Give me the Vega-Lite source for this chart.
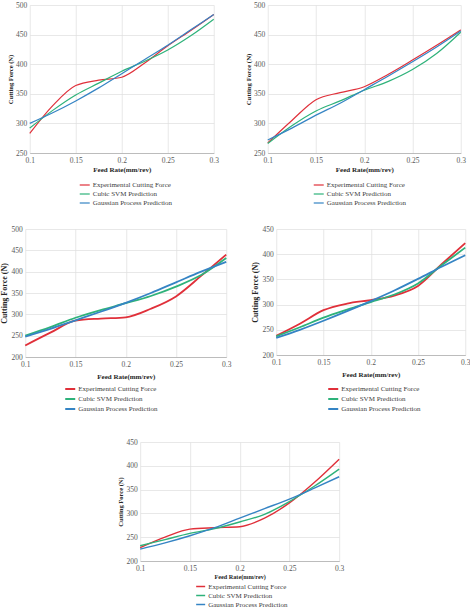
{
  "$schema": "https://vega.github.io/schema/vega-lite/v6.json",
  "background": "white",
  "padding": {"left": 0, "top": 1, "right": 0, "bottom": 0},
  "datasets": {
    "p1": [
      {"feed": 0.1, "series": "Experimental Cutting Force", "force": 283},
      {"feed": 0.125, "series": "Experimental Cutting Force", "force": 330},
      {"feed": 0.15, "series": "Experimental Cutting Force", "force": 364},
      {"feed": 0.175, "series": "Experimental Cutting Force", "force": 373},
      {"feed": 0.2, "series": "Experimental Cutting Force", "force": 378},
      {"feed": 0.225, "series": "Experimental Cutting Force", "force": 402},
      {"feed": 0.25, "series": "Experimental Cutting Force", "force": 431},
      {"feed": 0.275, "series": "Experimental Cutting Force", "force": 457},
      {"feed": 0.3, "series": "Experimental Cutting Force", "force": 484},
      {"feed": 0.1, "series": "Cubic SVM Prediction", "force": 292},
      {"feed": 0.125, "series": "Cubic SVM Prediction", "force": 322},
      {"feed": 0.15, "series": "Cubic SVM Prediction", "force": 348},
      {"feed": 0.175, "series": "Cubic SVM Prediction", "force": 368},
      {"feed": 0.2, "series": "Cubic SVM Prediction", "force": 388},
      {"feed": 0.225, "series": "Cubic SVM Prediction", "force": 405},
      {"feed": 0.25, "series": "Cubic SVM Prediction", "force": 424},
      {"feed": 0.275, "series": "Cubic SVM Prediction", "force": 448},
      {"feed": 0.3, "series": "Cubic SVM Prediction", "force": 476},
      {"feed": 0.1, "series": "Gaussian Process Prediction", "force": 300},
      {"feed": 0.125, "series": "Gaussian Process Prediction", "force": 318},
      {"feed": 0.15, "series": "Gaussian Process Prediction", "force": 338},
      {"feed": 0.175, "series": "Gaussian Process Prediction", "force": 360},
      {"feed": 0.2, "series": "Gaussian Process Prediction", "force": 384},
      {"feed": 0.225, "series": "Gaussian Process Prediction", "force": 408},
      {"feed": 0.25, "series": "Gaussian Process Prediction", "force": 432},
      {"feed": 0.275, "series": "Gaussian Process Prediction", "force": 458},
      {"feed": 0.3, "series": "Gaussian Process Prediction", "force": 484}
    ],
    "p2": [
      {"feed": 0.1, "series": "Experimental Cutting Force", "force": 267},
      {"feed": 0.125, "series": "Experimental Cutting Force", "force": 305},
      {"feed": 0.15, "series": "Experimental Cutting Force", "force": 340},
      {"feed": 0.175, "series": "Experimental Cutting Force", "force": 352},
      {"feed": 0.2, "series": "Experimental Cutting Force", "force": 362},
      {"feed": 0.225, "series": "Experimental Cutting Force", "force": 383},
      {"feed": 0.25, "series": "Experimental Cutting Force", "force": 407},
      {"feed": 0.275, "series": "Experimental Cutting Force", "force": 432},
      {"feed": 0.3, "series": "Experimental Cutting Force", "force": 458},
      {"feed": 0.1, "series": "Cubic SVM Prediction", "force": 266},
      {"feed": 0.125, "series": "Cubic SVM Prediction", "force": 296},
      {"feed": 0.15, "series": "Cubic SVM Prediction", "force": 321},
      {"feed": 0.175, "series": "Cubic SVM Prediction", "force": 338},
      {"feed": 0.2, "series": "Cubic SVM Prediction", "force": 356},
      {"feed": 0.225, "series": "Cubic SVM Prediction", "force": 371},
      {"feed": 0.25, "series": "Cubic SVM Prediction", "force": 391},
      {"feed": 0.275, "series": "Cubic SVM Prediction", "force": 418},
      {"feed": 0.3, "series": "Cubic SVM Prediction", "force": 454},
      {"feed": 0.1, "series": "Gaussian Process Prediction", "force": 272},
      {"feed": 0.125, "series": "Gaussian Process Prediction", "force": 292},
      {"feed": 0.15, "series": "Gaussian Process Prediction", "force": 314},
      {"feed": 0.175, "series": "Gaussian Process Prediction", "force": 334},
      {"feed": 0.2, "series": "Gaussian Process Prediction", "force": 357},
      {"feed": 0.225, "series": "Gaussian Process Prediction", "force": 380},
      {"feed": 0.25, "series": "Gaussian Process Prediction", "force": 404},
      {"feed": 0.275, "series": "Gaussian Process Prediction", "force": 429},
      {"feed": 0.3, "series": "Gaussian Process Prediction", "force": 456}
    ],
    "p3": [
      {"feed": 0.1, "series": "Experimental Cutting Force", "force": 227},
      {"feed": 0.125, "series": "Experimental Cutting Force", "force": 257},
      {"feed": 0.15, "series": "Experimental Cutting Force", "force": 285},
      {"feed": 0.175, "series": "Experimental Cutting Force", "force": 290},
      {"feed": 0.2, "series": "Experimental Cutting Force", "force": 293},
      {"feed": 0.225, "series": "Experimental Cutting Force", "force": 313},
      {"feed": 0.25, "series": "Experimental Cutting Force", "force": 342},
      {"feed": 0.275, "series": "Experimental Cutting Force", "force": 390},
      {"feed": 0.3, "series": "Experimental Cutting Force", "force": 440},
      {"feed": 0.1, "series": "Cubic SVM Prediction", "force": 250},
      {"feed": 0.125, "series": "Cubic SVM Prediction", "force": 270},
      {"feed": 0.15, "series": "Cubic SVM Prediction", "force": 292},
      {"feed": 0.175, "series": "Cubic SVM Prediction", "force": 310},
      {"feed": 0.2, "series": "Cubic SVM Prediction", "force": 326},
      {"feed": 0.225, "series": "Cubic SVM Prediction", "force": 343},
      {"feed": 0.25, "series": "Cubic SVM Prediction", "force": 365},
      {"feed": 0.275, "series": "Cubic SVM Prediction", "force": 392},
      {"feed": 0.3, "series": "Cubic SVM Prediction", "force": 432},
      {"feed": 0.1, "series": "Gaussian Process Prediction", "force": 248},
      {"feed": 0.125, "series": "Gaussian Process Prediction", "force": 266},
      {"feed": 0.15, "series": "Gaussian Process Prediction", "force": 286},
      {"feed": 0.175, "series": "Gaussian Process Prediction", "force": 306},
      {"feed": 0.2, "series": "Gaussian Process Prediction", "force": 327},
      {"feed": 0.225, "series": "Gaussian Process Prediction", "force": 350},
      {"feed": 0.25, "series": "Gaussian Process Prediction", "force": 375},
      {"feed": 0.275, "series": "Gaussian Process Prediction", "force": 400},
      {"feed": 0.3, "series": "Gaussian Process Prediction", "force": 423}
    ],
    "p4": [
      {"feed": 0.1, "series": "Experimental Cutting Force", "force": 238},
      {"feed": 0.125, "series": "Experimental Cutting Force", "force": 262},
      {"feed": 0.15, "series": "Experimental Cutting Force", "force": 289},
      {"feed": 0.175, "series": "Experimental Cutting Force", "force": 302},
      {"feed": 0.2, "series": "Experimental Cutting Force", "force": 309},
      {"feed": 0.225, "series": "Experimental Cutting Force", "force": 318},
      {"feed": 0.25, "series": "Experimental Cutting Force", "force": 337},
      {"feed": 0.275, "series": "Experimental Cutting Force", "force": 380},
      {"feed": 0.3, "series": "Experimental Cutting Force", "force": 422},
      {"feed": 0.1, "series": "Cubic SVM Prediction", "force": 237},
      {"feed": 0.125, "series": "Cubic SVM Prediction", "force": 255},
      {"feed": 0.15, "series": "Cubic SVM Prediction", "force": 274},
      {"feed": 0.175, "series": "Cubic SVM Prediction", "force": 290},
      {"feed": 0.2, "series": "Cubic SVM Prediction", "force": 305},
      {"feed": 0.225, "series": "Cubic SVM Prediction", "force": 320},
      {"feed": 0.25, "series": "Cubic SVM Prediction", "force": 342},
      {"feed": 0.275, "series": "Cubic SVM Prediction", "force": 378},
      {"feed": 0.3, "series": "Cubic SVM Prediction", "force": 413},
      {"feed": 0.1, "series": "Gaussian Process Prediction", "force": 234},
      {"feed": 0.125, "series": "Gaussian Process Prediction", "force": 250},
      {"feed": 0.15, "series": "Gaussian Process Prediction", "force": 268},
      {"feed": 0.175, "series": "Gaussian Process Prediction", "force": 287},
      {"feed": 0.2, "series": "Gaussian Process Prediction", "force": 307},
      {"feed": 0.225, "series": "Gaussian Process Prediction", "force": 328},
      {"feed": 0.25, "series": "Gaussian Process Prediction", "force": 351},
      {"feed": 0.275, "series": "Gaussian Process Prediction", "force": 375},
      {"feed": 0.3, "series": "Gaussian Process Prediction", "force": 398}
    ],
    "p5": [
      {"feed": 0.1, "series": "Experimental Cutting Force", "force": 228},
      {"feed": 0.125, "series": "Experimental Cutting Force", "force": 250},
      {"feed": 0.15, "series": "Experimental Cutting Force", "force": 267},
      {"feed": 0.175, "series": "Experimental Cutting Force", "force": 270},
      {"feed": 0.2, "series": "Experimental Cutting Force", "force": 272},
      {"feed": 0.225, "series": "Experimental Cutting Force", "force": 290},
      {"feed": 0.25, "series": "Experimental Cutting Force", "force": 322},
      {"feed": 0.275, "series": "Experimental Cutting Force", "force": 365},
      {"feed": 0.3, "series": "Experimental Cutting Force", "force": 414},
      {"feed": 0.1, "series": "Cubic SVM Prediction", "force": 232},
      {"feed": 0.125, "series": "Cubic SVM Prediction", "force": 245},
      {"feed": 0.15, "series": "Cubic SVM Prediction", "force": 258},
      {"feed": 0.175, "series": "Cubic SVM Prediction", "force": 268},
      {"feed": 0.2, "series": "Cubic SVM Prediction", "force": 282},
      {"feed": 0.225, "series": "Cubic SVM Prediction", "force": 298},
      {"feed": 0.25, "series": "Cubic SVM Prediction", "force": 325},
      {"feed": 0.275, "series": "Cubic SVM Prediction", "force": 357},
      {"feed": 0.3, "series": "Cubic SVM Prediction", "force": 393},
      {"feed": 0.1, "series": "Gaussian Process Prediction", "force": 225},
      {"feed": 0.125, "series": "Gaussian Process Prediction", "force": 238},
      {"feed": 0.15, "series": "Gaussian Process Prediction", "force": 253},
      {"feed": 0.175, "series": "Gaussian Process Prediction", "force": 270},
      {"feed": 0.2, "series": "Gaussian Process Prediction", "force": 290},
      {"feed": 0.225, "series": "Gaussian Process Prediction", "force": 310},
      {"feed": 0.25, "series": "Gaussian Process Prediction", "force": 330},
      {"feed": 0.275, "series": "Gaussian Process Prediction", "force": 353},
      {"feed": 0.3, "series": "Gaussian Process Prediction", "force": 377}
    ]
  },
  "spacing": 25,
  "center": true,
  "resolve": {"scale": {"color": "independent", "y": "independent"}, "legend": {"color": "independent"}},
  "vconcat": [
    {
      "spacing": 19,
      "center": true,
      "resolve": {"scale": {"color": "independent", "y": "independent"}, "legend": {"color": "independent"}},
      "vconcat": [
        {
          "bounds": "flush",
          "spacing": 54,
          "resolve": {"scale": {"color": "independent", "y": "independent"}, "legend": {"color": "independent"}},
          "hconcat": [
            {
              "width": 184,
              "height": 148,
              "data": {"name": "p1"},
              "mark": {"type": "line", "interpolate": "monotone", "strokeWidth": 1.2},
              "encoding": {
                "x": {"field": "feed", "type": "quantitative", "scale": {"domain": [0.1, 0.3]}, "axis": {"values": [0.1, 0.15, 0.2, 0.25, 0.3], "format": "~g", "title": "Feed Rate(mm/rev)", "titleFontSize": 7}},
                "y": {"field": "force", "type": "quantitative", "scale": {"domain": [250, 500]}, "axis": {"values": [250, 300, 350, 400, 450, 500], "title": "Cutting Force (N)", "titleFontSize": 6.5}},
                "color": {"field": "series", "type": "nominal", "sort": null,
                  "scale": {"domain": ["Experimental Cutting Force", "Cubic SVM Prediction", "Gaussian Process Prediction"], "range": ["#e0303a", "#2eb27a", "#3584c4"]},
                  "legend": {"legendX": 49, "legendY": 174, "symbolStrokeWidth": 1.2}}
              }
            },
            {
              "width": 193,
              "height": 148,
              "data": {"name": "p2"},
              "mark": {"type": "line", "interpolate": "monotone", "strokeWidth": 1.2},
              "encoding": {
                "x": {"field": "feed", "type": "quantitative", "scale": {"domain": [0.1, 0.3]}, "axis": {"values": [0.1, 0.15, 0.2, 0.25, 0.3], "format": "~g", "title": "Feed Rate(mm/rev)", "titleFontSize": 7}},
                "y": {"field": "force", "type": "quantitative", "scale": {"domain": [250, 500]}, "axis": {"values": [250, 300, 350, 400, 450, 500], "title": "Cutting Force (N)", "titleFontSize": 6.8}},
                "color": {"field": "series", "type": "nominal", "sort": null,
                  "scale": {"domain": ["Experimental Cutting Force", "Cubic SVM Prediction", "Gaussian Process Prediction"], "range": ["#e0303a", "#2eb27a", "#3584c4"]},
                  "legend": {"legendX": 45, "legendY": 174, "symbolStrokeWidth": 1.2}}
              }
            }
          ]
        },
        {
          "bounds": "flush",
          "spacing": 50,
          "resolve": {"scale": {"color": "independent", "y": "independent"}, "legend": {"color": "independent"}},
          "hconcat": [
            {
              "width": 201,
              "height": 128,
              "data": {"name": "p3"},
              "mark": {"type": "line", "interpolate": "monotone", "strokeWidth": 1.8},
              "encoding": {
                "x": {"field": "feed", "type": "quantitative", "scale": {"domain": [0.1, 0.3]}, "axis": {"values": [0.1, 0.15, 0.2, 0.25, 0.3], "format": "~g", "title": "Feed Rate(mm/rev)", "titleFontSize": 7, "titlePadding": 5}},
                "y": {"field": "force", "type": "quantitative", "scale": {"domain": [200, 500]}, "axis": {"values": [200, 250, 300, 350, 400, 450, 500], "title": "Cutting Force (N)", "titleFontSize": 8}},
                "color": {"field": "series", "type": "nominal", "sort": null,
                  "scale": {"domain": ["Experimental Cutting Force", "Cubic SVM Prediction", "Gaussian Process Prediction"], "range": ["#e0303a", "#2eb27a", "#3584c4"]},
                  "legend": {"legendX": 39, "legendY": 154, "symbolStrokeWidth": 2}}
              }
            },
            {
              "width": 189,
              "height": 126,
              "data": {"name": "p4"},
              "mark": {"type": "line", "interpolate": "monotone", "strokeWidth": 1.8},
              "encoding": {
                "x": {"field": "feed", "type": "quantitative", "scale": {"domain": [0.1, 0.3]}, "axis": {"values": [0.1, 0.15, 0.2, 0.25, 0.3], "format": "~g", "title": "Feed Rate(mm/rev)", "titleFontSize": 7, "titlePadding": 5}},
                "y": {"field": "force", "type": "quantitative", "scale": {"domain": [200, 450]}, "axis": {"values": [200, 250, 300, 350, 400, 450], "title": "Cutting Force (N)", "titleFontSize": 8}},
                "color": {"field": "series", "type": "nominal", "sort": null,
                  "scale": {"domain": ["Experimental Cutting Force", "Cubic SVM Prediction", "Gaussian Process Prediction"], "range": ["#e0303a", "#2eb27a", "#3584c4"]},
                  "legend": {"legendX": 51, "legendY": 154, "symbolStrokeWidth": 2}}
              }
            }
          ]
        }
      ]
    },
    {
      "width": 199,
      "height": 119,
      "title": {"text": " ", "orient": "right", "fontSize": 2, "offset": 9},
      "data": {"name": "p5"},
      "mark": {"type": "line", "interpolate": "monotone", "strokeWidth": 1.4},
      "encoding": {
        "x": {"field": "feed", "type": "quantitative", "scale": {"domain": [0.1, 0.3]}, "axis": {"values": [0.1, 0.15, 0.2, 0.25, 0.3], "format": "~g", "title": "Feed Rate(mm/rev)", "titleFontSize": 6.2}},
        "y": {"field": "force", "type": "quantitative", "scale": {"domain": [200, 450]}, "axis": {"values": [200, 250, 300, 350, 400, 450], "title": "Cutting Force (N)", "titleFontSize": 6.5}},
        "color": {"field": "series", "type": "nominal", "sort": null,
          "scale": {"domain": ["Experimental Cutting Force", "Cubic SVM Prediction", "Gaussian Process Prediction"], "range": ["#e0303a", "#2eb27a", "#3584c4"]},
          "legend": {"legendX": 55, "legendY": 139, "symbolSize": 81, "symbolStrokeWidth": 1.5}}
      }
    }
  ],
  "config": {
    "view": {"stroke": null},
    "font": "Liberation Serif",
    "axis": {
      "labelFont": "Liberation Serif",
      "labelFontSize": 7.5,
      "labelColor": "#595959",
      "labelPadding": 3,
      "titleFont": "Liberation Serif",
      "titleFontSize": 7.5,
      "titleFontWeight": "bold",
      "titleColor": "#262626",
      "titlePadding": 2,
      "gridColor": "#dedede",
      "gridWidth": 0.7,
      "ticks": false,
      "domain": false,
      "labelFlush": false
    },
    "axisX": {"domain": true, "domainColor": "#b0b0b0", "domainWidth": 0.8},
    "legend": {
      "orient": "none",
      "direction": "vertical",
      "title": null,
      "symbolType": "stroke",
      "symbolSize": 100,
      "labelFont": "Liberation Serif",
      "labelFontSize": 7,
      "labelColor": "#404040",
      "labelOffset": 2,
      "rowPadding": 0
    }
  }
}
